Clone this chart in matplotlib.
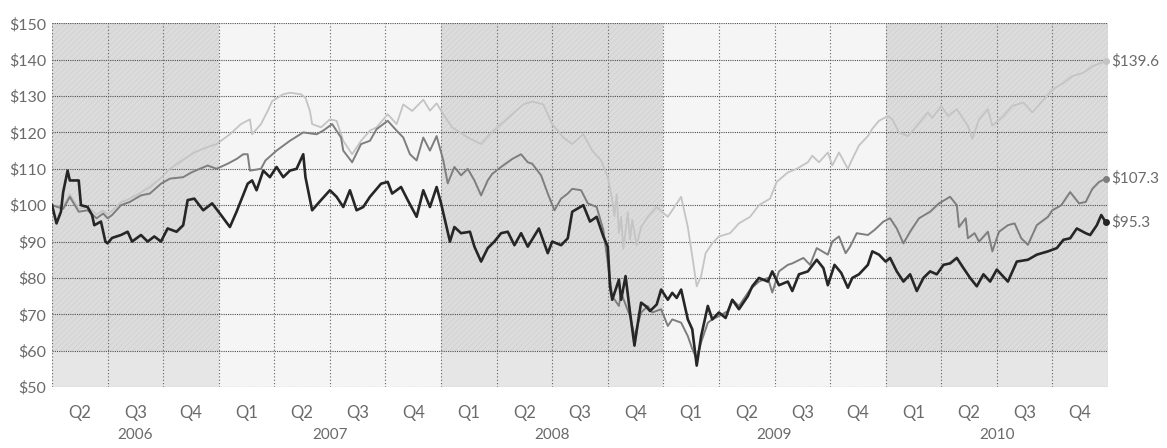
import matplotlib.pyplot as plt

# (decimal year, value of $100 invested)
dark_pts = [
    (2006.25, 100), (2006.27, 95), (2006.29, 98.2), (2006.30, 103.6), (2006.32, 109.5),
    (2006.33, 106.8), (2006.37, 106.8), (2006.38, 100), (2006.41, 99.5), (2006.43, 97.3),
    (2006.44, 94.5), (2006.47, 95.5), (2006.49, 90), (2006.50, 89.5), (2006.52, 91),
    (2006.56, 91.8), (2006.59, 92.7), (2006.61, 90), (2006.65, 91.8), (2006.68, 90),
    (2006.71, 91.4), (2006.74, 90), (2006.77, 93.6), (2006.81, 92.7), (2006.84, 94.5),
    (2006.86, 101.4), (2006.89, 101.8), (2006.93, 98.6), (2006.97, 100.5), (2007.01, 97.3),
    (2007.05, 94), (2007.08, 98.2), (2007.13, 105.9), (2007.15, 106.8), (2007.17, 104.1),
    (2007.20, 109.5), (2007.23, 107.7), (2007.26, 110.5), (2007.29, 107.7), (2007.32, 109.5),
    (2007.35, 110), (2007.38, 114), (2007.39, 107.7), (2007.42, 98.6), (2007.46, 101.4),
    (2007.50, 104.1), (2007.53, 102.3), (2007.56, 99.5), (2007.59, 104.1), (2007.62, 98.6),
    (2007.65, 99.5), (2007.68, 102.3), (2007.73, 105.9), (2007.76, 106.4), (2007.78, 103.2),
    (2007.82, 105), (2007.85, 101.4), (2007.89, 96.8), (2007.92, 104.1), (2007.95, 99.5),
    (2007.98, 105), (2008.00, 100.5), (2008.04, 90), (2008.06, 94), (2008.09, 92.3),
    (2008.13, 92.7), (2008.15, 88.6), (2008.18, 84.5), (2008.21, 88.2), (2008.24, 90),
    (2008.27, 92.3), (2008.30, 92.7), (2008.33, 89), (2008.36, 92.3), (2008.39, 88.6),
    (2008.44, 93.6), (2008.48, 86.8), (2008.50, 90), (2008.54, 89), (2008.57, 90.9),
    (2008.59, 98.2), (2008.64, 100), (2008.67, 95.5), (2008.70, 96.8), (2008.73, 91.4),
    (2008.75, 88.6), (2008.76, 77.7), (2008.77, 74), (2008.80, 79.5), (2008.81, 74),
    (2008.83, 80.5), (2008.85, 70.5), (2008.87, 61.4), (2008.89, 69.5), (2008.90, 73.2),
    (2008.92, 72.3), (2008.94, 70.9), (2008.97, 72.7), (2008.99, 76.8), (2009.02, 74),
    (2009.04, 75.9), (2009.06, 74.5), (2009.08, 76.8), (2009.11, 68.6), (2009.13, 65.9),
    (2009.15, 55.9), (2009.17, 64), (2009.20, 72.3), (2009.22, 68.6), (2009.25, 70.5),
    (2009.28, 69), (2009.31, 74), (2009.34, 71.4), (2009.38, 75), (2009.40, 77.7),
    (2009.43, 80), (2009.47, 79), (2009.49, 81.8), (2009.52, 78), (2009.56, 79),
    (2009.58, 76.4), (2009.61, 81), (2009.65, 81.8), (2009.69, 85), (2009.72, 82.7),
    (2009.74, 78), (2009.77, 83.6), (2009.80, 81.4), (2009.83, 77.3), (2009.85, 80),
    (2009.88, 81), (2009.92, 83.6), (2009.94, 87.3), (2009.97, 86.4), (2010.00, 84.5),
    (2010.02, 85.5), (2010.05, 81.8), (2010.08, 79), (2010.11, 81), (2010.14, 76.4),
    (2010.17, 80), (2010.20, 81.8), (2010.23, 81), (2010.26, 83.6), (2010.29, 84),
    (2010.32, 85.5), (2010.35, 82.7), (2010.38, 80), (2010.41, 77.7), (2010.44, 81),
    (2010.47, 79), (2010.50, 82.3), (2010.55, 79), (2010.59, 84.5), (2010.64, 85),
    (2010.68, 86.4), (2010.73, 87.3), (2010.77, 88.2), (2010.80, 90.5), (2010.83, 90.9),
    (2010.86, 93.6), (2010.90, 92.3), (2010.92, 91.8), (2010.95, 94.5), (2010.97, 97.3),
    (2010.99, 95.3),
]

mid_pts = [
    (2006.25, 100), (2006.30, 99), (2006.33, 102.3), (2006.37, 98.2), (2006.41, 98.6),
    (2006.45, 96.4), (2006.48, 97.7), (2006.50, 96.4), (2006.52, 97.3), (2006.56, 100),
    (2006.60, 100.9), (2006.65, 102.7), (2006.69, 103.2), (2006.74, 105.9), (2006.78, 107.3),
    (2006.84, 107.7), (2006.88, 109.1), (2006.95, 110.9), (2006.99, 110), (2007.04, 111.4),
    (2007.08, 112.7), (2007.11, 114), (2007.13, 114), (2007.14, 109.5), (2007.19, 110),
    (2007.21, 112.3), (2007.26, 115), (2007.32, 117.7), (2007.38, 120), (2007.44, 119.5),
    (2007.47, 120.5), (2007.51, 122.3), (2007.55, 118.6), (2007.56, 115), (2007.60, 111.8),
    (2007.64, 116.8), (2007.68, 117.7), (2007.71, 120.9), (2007.76, 123.2), (2007.80, 120.5),
    (2007.83, 118.6), (2007.86, 114), (2007.89, 112.3), (2007.92, 118.6), (2007.95, 115),
    (2007.98, 119), (2008.01, 112.3), (2008.03, 106), (2008.06, 110.5), (2008.09, 108.2),
    (2008.12, 110), (2008.15, 106.8), (2008.18, 102.7), (2008.21, 106.8), (2008.23, 108.6),
    (2008.27, 110.5), (2008.30, 111.8), (2008.32, 112.7), (2008.36, 114), (2008.39, 111.8),
    (2008.41, 111.4), (2008.45, 108.2), (2008.48, 103.2), (2008.51, 98.6), (2008.54, 101.8),
    (2008.57, 103.2), (2008.59, 104.5), (2008.63, 104.1), (2008.66, 100.5), (2008.70, 99.5),
    (2008.73, 93.2), (2008.75, 84), (2008.77, 75), (2008.80, 72.3), (2008.81, 75.9),
    (2008.85, 69.5), (2008.87, 64), (2008.90, 70.5), (2008.93, 72.3), (2008.95, 70.5),
    (2008.99, 71.4), (2009.02, 66.8), (2009.04, 68.6), (2009.08, 67.7), (2009.11, 64),
    (2009.13, 60.5), (2009.15, 57.7), (2009.17, 62.3), (2009.20, 67.7), (2009.22, 68.6),
    (2009.25, 69.5), (2009.29, 70.9), (2009.31, 74), (2009.34, 72.3), (2009.39, 76.8),
    (2009.43, 79), (2009.47, 80), (2009.49, 76), (2009.52, 81.8), (2009.56, 83.6),
    (2009.58, 84), (2009.63, 85.5), (2009.66, 83.6), (2009.69, 88.2), (2009.74, 86.4),
    (2009.76, 90), (2009.79, 91.4), (2009.82, 86.8), (2009.84, 88.6), (2009.87, 92.3),
    (2009.92, 91.8), (2009.95, 93.2), (2009.99, 95.5), (2010.02, 96.4), (2010.05, 93.6),
    (2010.08, 89.5), (2010.11, 92.7), (2010.15, 96.4), (2010.20, 98.2), (2010.24, 100.5),
    (2010.29, 102.3), (2010.32, 100), (2010.33, 94), (2010.36, 96.4), (2010.37, 90.9),
    (2010.40, 92.3), (2010.42, 90), (2010.46, 92.7), (2010.48, 87.3), (2010.51, 92.7),
    (2010.55, 94.5), (2010.58, 95), (2010.61, 90.9), (2010.64, 89.1), (2010.68, 94.5),
    (2010.73, 96.8), (2010.75, 98.6), (2010.79, 100), (2010.83, 103.6), (2010.87, 100.5),
    (2010.90, 100.9), (2010.93, 104.5), (2010.96, 106.4), (2010.99, 107.3),
]

light_pts = [
    (2006.25, 100), (2006.30, 99.5), (2006.33, 103), (2006.37, 99), (2006.41, 99.5),
    (2006.45, 97.5), (2006.48, 98.5), (2006.50, 97.5), (2006.52, 98.5), (2006.56, 100.8),
    (2006.60, 101.8), (2006.65, 103.5), (2006.69, 105), (2006.74, 107.5), (2006.78, 110),
    (2006.84, 112.5), (2006.89, 114.5), (2006.95, 116), (2006.99, 116.8), (2007.05, 119.5),
    (2007.10, 122.3), (2007.14, 123.6), (2007.15, 119.5), (2007.19, 122.3), (2007.22, 125.9),
    (2007.24, 128.6), (2007.29, 130.5), (2007.32, 130.9), (2007.37, 130.5), (2007.39, 129.5),
    (2007.41, 125.9), (2007.42, 122.3), (2007.46, 121.4), (2007.50, 123.6), (2007.53, 123.2),
    (2007.56, 117.7), (2007.60, 114), (2007.64, 117.7), (2007.68, 120.5), (2007.71, 121.4),
    (2007.76, 125), (2007.80, 122.3), (2007.83, 127.7), (2007.87, 125.9), (2007.92, 129),
    (2007.95, 126), (2007.98, 128), (2008.01, 125), (2008.05, 121.4), (2008.12, 118.6),
    (2008.18, 116.8), (2008.22, 119.5), (2008.27, 122.3), (2008.32, 125), (2008.37, 127.7),
    (2008.41, 128.5), (2008.46, 127.7), (2008.50, 122.3), (2008.55, 118.6), (2008.59, 116.8),
    (2008.64, 119.5), (2008.68, 115), (2008.72, 112.3), (2008.75, 107.7), (2008.77, 101.4),
    (2008.78, 97), (2008.79, 103), (2008.80, 92.3), (2008.81, 96.8), (2008.82, 88),
    (2008.84, 98), (2008.85, 90.5), (2008.86, 95.9), (2008.88, 89), (2008.90, 94),
    (2008.93, 96.8), (2008.97, 99.5), (2009.02, 96.8), (2009.04, 98.6), (2009.08, 102.3),
    (2009.11, 94), (2009.13, 86), (2009.15, 77.7), (2009.17, 80.5), (2009.19, 86.8),
    (2009.22, 89.5), (2009.25, 91.4), (2009.30, 92.3), (2009.34, 95), (2009.39, 96.8),
    (2009.43, 100), (2009.48, 101.8), (2009.51, 106.4), (2009.56, 109), (2009.60, 110),
    (2009.65, 111.8), (2009.67, 113.6), (2009.70, 111.8), (2009.74, 114.5), (2009.76, 110.9),
    (2009.79, 114.5), (2009.83, 110), (2009.85, 112.7), (2009.88, 116.4), (2009.92, 119),
    (2009.94, 121), (2009.97, 123.2), (2010.01, 124.5), (2010.03, 123.6), (2010.06, 120),
    (2010.10, 119), (2010.14, 121.8), (2010.19, 125.5), (2010.21, 124), (2010.25, 127.3),
    (2010.28, 124.5), (2010.32, 126.4), (2010.37, 121.8), (2010.39, 118.2), (2010.42, 123.6),
    (2010.46, 126.4), (2010.48, 121.8), (2010.53, 124.5), (2010.57, 127.3), (2010.62, 128.2),
    (2010.66, 125.5), (2010.71, 129), (2010.75, 131.8), (2010.80, 133.6), (2010.84, 135.5),
    (2010.89, 136.4), (2010.93, 138.2), (2010.99, 139.6),
]

years = [2006, 2007, 2008, 2009, 2010]
shaded_years = [2006, 2008, 2010]
y_ticks = [50, 60, 70, 80, 90, 100, 110, 120, 130, 140, 150]
start, end = 2006.25, 2011.0

plt.rcParams['font.family'] = ['Lato', 'DejaVu Sans']
label_col = '#6a6a6a'
plt.rcParams['hatch.linewidth'] = 0.5

fig = plt.figure(figsize=(11.67, 4.48), dpi=100)
ax = fig.add_axes([0.0446, 0.136, 0.9048, 0.812])
ax.set_facecolor('#f5f5f5')
ax.set_xlim(start, end)
ax.set_ylim(50, 150)

# shaded year bands (lighter below $60, as in the print)
for yr in shaded_years:
    x0 = max(yr, start)
    ax.axvspan(x0, yr + 1, ymin=0, ymax=0.1, facecolor='#e6e6e6', lw=0, zorder=0)
    ax.axvspan(x0, yr + 1, ymin=0.1, ymax=1, facecolor='#dcdcdc', hatch='//////',
               edgecolor='#d0d0d0', lw=0, zorder=0)

# grid
for v in y_ticks:
    ax.axhline(v, color='#505050', lw=0.8, ls=(0, (1, 1)), zorder=1)
q = start
while q <= end + 1e-9:
    ax.axvline(q, color='#606060', lw=0.8, ls=(0, (1, 2)), zorder=1)
    q += 0.25
for s in ax.spines.values():
    s.set_visible(False)

series = [
    (light_pts, '#c4c4c4', 1.3, '$139.6'),
    (mid_pts, '#7e7e7e', 1.4, '$107.3'),
    (dark_pts, '#262626', 1.9, '$95.3'),
]
for pts, col, lw, lab in series:
    t, v = zip(*pts)
    ax.plot(t, v, color=col, lw=lw, solid_joinstyle='round', zorder=3)
    ax.plot(t[-1], v[-1], 'o', ms=4, color=col, zorder=4, clip_on=False)
    ax.annotate(lab, (t[-1], v[-1]), xytext=(4, 0), textcoords='offset points',
                va='center', ha='left', fontsize=11, color=label_col)

# y labels
ax.set_yticks(y_ticks)
ax.set_yticklabels(['$%d' % v for v in y_ticks], fontsize=11.5, color=label_col)
ax.tick_params(axis='y', length=0, pad=4)

# quarter labels
centers, qlabels = [], []
for yr in years:
    for k in range(4):
        c = yr + k * 0.25 + 0.125
        if start < c < end:
            centers.append(c)
            qlabels.append('Q%d' % (k + 1))
ax.set_xticks(centers)
ax.set_xticklabels(qlabels, fontsize=12, color=label_col)
ax.tick_params(axis='x', length=0, pad=13)

# year labels
for yr in years:
    mid = (max(yr, start) + yr + 1) / 2
    ax.annotate(str(yr), (mid, 0), xycoords=('data', 'axes fraction'),
                xytext=(0, -48), textcoords='offset pixels',
                ha='center', va='center', fontsize=11, color=label_col)

fig.savefig('out.png', dpi=100, facecolor='white')
